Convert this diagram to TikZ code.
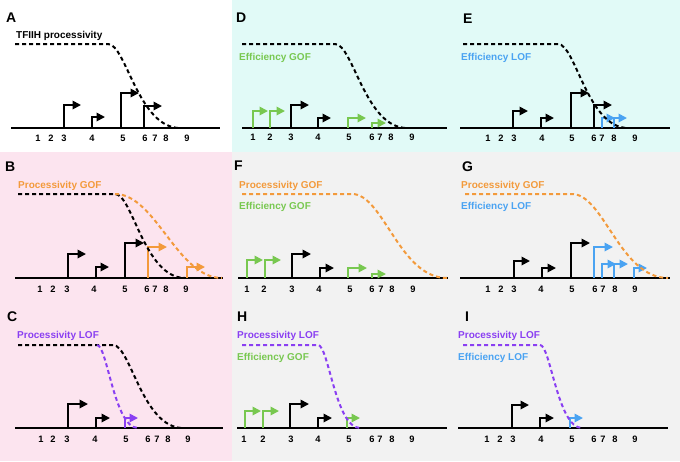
\documentclass[tikz,border=0pt]{standalone}
\usepackage{fontspec}
\setmainfont{Liberation Sans}
\usetikzlibrary{arrows.meta}
\definecolor{grn}{HTML}{78C850}
\definecolor{org}{HTML}{F39A3B}
\definecolor{blu}{HTML}{4AA3F2}
\definecolor{pur}{HTML}{8A3FF2}
\definecolor{cyanbg}{HTML}{E1FAF7}
\definecolor{pinkbg}{HTML}{FCE4EF}
\definecolor{graybg}{HTML}{F2F2F2}
\newcommand\pmk[5]{\draw[promarrow,#1] (#2,#5) -- (#2,#3) -- ++(#4+2,0);}
\begin{document}
\begin{tikzpicture}[x=1pt,y=-1pt,
 promarrow/.style={line width=1.8pt,line join=miter,-{Triangle[length=8.5pt,width=8.5pt]}},
 dnaline/.style={line width=2pt},
 dsh/.style={line width=2pt,dash pattern=on 4pt off 3pt},
 num/.style={font=\bfseries\fontsize{9.3}{10}\selectfont,anchor=base,inner sep=0pt},
 lbl/.style={font=\bfseries\fontsize{10}{12}\selectfont,anchor=base west,inner sep=0pt},
 panellbl/.style={font=\bfseries\fontsize{14}{16}\selectfont,anchor=west,inner sep=0pt}]
\useasboundingbox (0,0) rectangle (680,461);
% backgrounds
\fill[white] (0,0) rectangle (232,152);
\fill[cyanbg] (232,0) rectangle (680,152);
\fill[pinkbg] (0,152) rectangle (232,461);
\fill[graybg] (232,152) rectangle (680,461);

% ---------------- Panel A ----------------
\node[panellbl] (LA) at (6,18) {A};
\node[lbl] (tA) at (16,38.6) {TFIIH processivity};
\draw[dnaline] (11,128) -- (220,128);
\pmk{black}{64}{105}{15}{128}
\pmk{black}{92}{117}{11}{128}
\pmk{black}{121}{93}{16}{128}
\pmk{black}{144}{106}{16}{128}
\draw[dsh] (15,44) -- (108,44) .. controls (126,44) and (138.2,128) .. (180,128);
\foreach \x/\t in {38/1,51/2,64/3,92/4,123/5,145/6,155/7,166/8,187/9}
  \node[num] (nA\t) at (\x,141.7) {\t};

% ---------------- Panel D ----------------
\node[panellbl] (LD) at (236,18) {D};
\node[lbl,text=grn] (tD) at (239,60) {Efficiency GOF};
\draw[dnaline] (242,128) -- (447,128);
\pmk{grn}{253}{111}{13}{128}
\pmk{grn}{270}{111}{13}{128}
\pmk{black}{291}{105}{16}{128}
\pmk{black}{318}{118}{11}{128}
\pmk{grn}{348}{118}{16}{128}
\pmk{grn}{372}{123}{12}{128}
\draw[dsh] (242,44) -- (335,44) .. controls (353,44) and (365.2,128) .. (407,128);
\foreach \x/\t in {253/1,270/2,291/3,318/4,349/5,372/6,380/7,391/8,412/9}
  \node[num] (nD\t) at (\x,140.5) {\t};

% ---------------- Panel E ----------------
\node[panellbl] (LE) at (463,19) {E};
\node[lbl,text=blu] (tE) at (461,60) {Efficiency LOF};
\draw[dnaline] (460,128) -- (670,128);
\pmk{black}{513}{111}{13}{128}
\pmk{black}{541}{118}{11}{128}
\pmk{black}{571}{93}{16}{128}
\pmk{black}{594}{105}{16}{128}
\pmk{blu}{602}{118}{11}{128}
\pmk{blu}{614}{118}{11}{128}
\draw[dsh] (463,44) -- (558,44) .. controls (575.5,44) and (587.4,128) .. (628,128);
\foreach \x/\t in {488/1,501/2,514/3,542/4,572/5,594/6,602/7,614/8,635/9}
  \node[num] (nE\t) at (\x,141) {\t};

% ---------------- Panel B ----------------
\node[panellbl] (LB) at (5,167) {B};
\node[lbl,text=org] (tB) at (18,188.4) {Processivity GOF};
\draw[dnaline] (15,278) -- (223,278);
\pmk{black}{68}{254}{16}{278}
\pmk{black}{96}{267}{11}{278}
\pmk{black}{125}{243}{17}{278}
\pmk{org}{148}{247}{17}{278}
\pmk{org}{187}{267}{16}{278}
\draw[dsh] (18,194) -- (115,194) .. controls (132.5,194) and (144.4,278) .. (185,278);
\draw[dsh,org] (115,194) .. controls (155.7,194) and (177.1,278) .. (222,278);
\foreach \x/\t in {40/1,53/2,67/3,94/4,125/5,147/6,155/7,166/8,186/9}
  \node[num] (nB\t) at (\x,292.7) {\t};

% ---------------- Panel F ----------------
\node[panellbl] (LF) at (234,166) {F};
\node[lbl,text=org] (tF1) at (239,188) {Processivity GOF};
\node[lbl,text=grn] (tF2) at (239,209.5) {Efficiency GOF};
\draw[dnaline] (238,278) -- (448,278);
\pmk{grn}{247}{260}{14}{278}
\pmk{grn}{265}{260}{14}{278}
\pmk{black}{292}{254}{17}{278}
\pmk{black}{320}{268}{12}{278}
\pmk{grn}{348}{268}{17}{278}
\pmk{grn}{372}{274}{12}{278}
\draw[dsh,org] (242,194) -- (352,194) .. controls (383.4,194) and (399.5,278) .. (447,278);
\foreach \x/\t in {247/1,264/2,292/3,319/4,350/5,372/6,381/7,392/8,413/9}
  \node[num] (nF\t) at (\x,292.7) {\t};

% ---------------- Panel G ----------------
\node[panellbl] (LG) at (462,167) {G};
\node[lbl,text=org] (tG1) at (461,188) {Processivity GOF};
\node[lbl,text=blu] (tG2) at (461,209.5) {Efficiency LOF};
\draw[dnaline] (460,278) -- (670,278);
\pmk{black}{514}{261}{14}{278}
\pmk{black}{542}{268}{12}{278}
\pmk{black}{571}{243}{17}{278}
\pmk{blu}{594}{247}{17}{278}
\pmk{blu}{602}{264}{12}{278}
\pmk{blu}{614}{264}{12}{278}
\pmk{blu}{634}{268}{11}{278}
\draw[dsh,org] (465,194) -- (572,194) .. controls (603.7,194) and (620,278) .. (668,278);
\foreach \x/\t in {488/1,501/2,514/3,541/4,572/5,595/6,603/7,615/8,635/9}
  \node[num] (nG\t) at (\x,292.7) {\t};

% ---------------- Panel C ----------------
\node[panellbl] (LC) at (7,317) {C};
\node[lbl,text=pur] (tC) at (17,338) {Processivity LOF};
\draw[dnaline] (15,428) -- (223,428);
\pmk{black}{68}{404}{18}{428}
\pmk{black}{96}{418}{12}{428}
\pmk{pur}{125}{418}{11}{428}
\draw[dsh] (18,345) -- (113,345) .. controls (130.5,345) and (142.4,428) .. (183,428);
\draw[dsh,pur] (97,345) .. controls (107.3,345) and (114.2,428) .. (138,428);
\foreach \x/\t in {41/1,53/2,67/3,95/4,126/5,148/6,157/7,168/8,188/9}
  \node[num] (nC\t) at (\x,442.7) {\t};

% ---------------- Panel H ----------------
\node[panellbl] (LH) at (237,317) {H};
\node[lbl,text=pur] (tH1) at (237,338) {Processivity LOF};
\node[lbl,text=grn] (tH2) at (237,360) {Efficiency GOF};
\draw[dnaline] (237,428) -- (447,428);
\pmk{grn}{245}{411}{14}{428}
\pmk{grn}{263}{411}{14}{428}
\pmk{black}{290}{404}{17}{428}
\pmk{black}{318}{418}{12}{428}
\pmk{grn}{347}{418}{11}{428}
\draw[dsh,pur] (242,345) -- (318,345) .. controls (328.5,345) and (335.6,428) .. (360,428);
\foreach \x/\t in {244/1,263/2,291/3,318/4,349/5,372/6,380/7,392/8,412/9}
  \node[num] (nH\t) at (\x,442.7) {\t};

% ---------------- Panel I ----------------
\node[panellbl] (LI) at (465,317) {I};
\node[lbl,text=pur] (tI1) at (458,338) {Processivity LOF};
\node[lbl,text=blu] (tI2) at (458,360.5) {Efficiency LOF};
\draw[dnaline] (458,428) -- (668,428);
\pmk{black}{512}{405}{15}{428}
\pmk{black}{540}{418}{12}{428}
\pmk{blu}{570}{418}{11}{428}
\draw[dsh,pur] (463,345) -- (540,345) .. controls (550.5,345) and (557.6,428) .. (582,428);
\foreach \x/\t in {487/1,500/2,513/3,541/4,572/5,594/6,603/7,615/8,635/9}
  \node[num] (nI\t) at (\x,442.7) {\t};
\end{tikzpicture}
\end{document}
